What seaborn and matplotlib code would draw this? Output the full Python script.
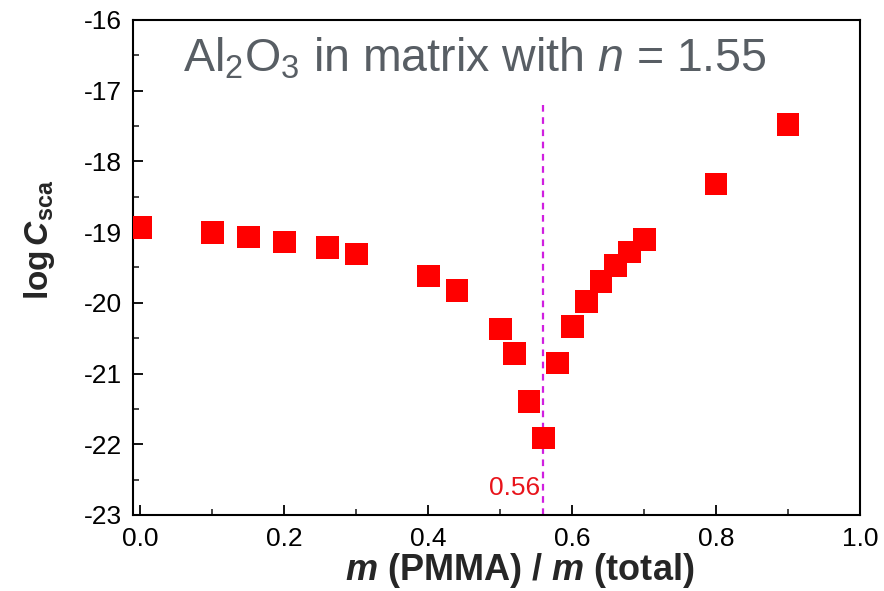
import matplotlib
matplotlib.use("Agg")
import matplotlib.pyplot as plt
import seaborn as sns
import pandas as pd

# Data
mass_fraction = [0.0, 0.1, 0.15, 0.2, 0.26, 0.3, 0.4, 0.44, 0.5, 0.52, 0.54, 0.56,
                 0.58, 0.6, 0.62, 0.64, 0.66, 0.68, 0.7, 0.8, 0.9]
log_csca = [-18.94, -19.01, -19.07, -19.14, -19.22, -19.31, -19.62, -19.83, -20.37,
            -20.72, -21.40, -21.91, -20.85, -20.33, -19.98, -19.70, -19.47, -19.28,
            -19.11, -18.32, -17.48]
x_ticks = [0.0, 0.2, 0.4, 0.6, 0.8, 1.0]
y_ticks = [-23, -22, -21, -20, -19, -18, -17, -16]
min_point = 0.56

sns.set_style("ticks")
plt.rcParams['font.family'] = ['Liberation Sans', 'DejaVu Sans']
plt.rcParams['mathtext.fontset'] = 'custom'
plt.rcParams['mathtext.rm'] = 'Liberation Sans'
plt.rcParams['mathtext.it'] = 'Liberation Sans:italic'
plt.rcParams['mathtext.bf'] = 'Liberation Sans:bold'
plt.rcParams['mathtext.bfit'] = 'Liberation Sans:bold:italic'

df = pd.DataFrame({"x": mass_fraction, "y": log_csca})

fig = plt.figure(figsize=(8.84, 5.91), dpi=100)
ax = fig.add_axes([0.1505, 0.1286, 0.8224, 0.8376])

sns.scatterplot(data=df, x="x", y="y", marker="s", color="#ff0000", s=270,
                edgecolor="none", linewidth=0, ax=ax, zorder=3)

ax.axvline(min_point, ymin=0, ymax=(-17.15 + 23) / 7, color="#d01fe0",
           linestyle=(0, (3, 2.5)), linewidth=1.6, zorder=2)
ax.text(min_point - 0.004, -22.72, "0.56", color="#e8141b", fontsize=19,
        ha="right", va="baseline")

ax.text(0.0597, -16.735, r"Al$_2$O$_3$ in matrix with $n$ = 1.55", color="#585e64",
        fontsize=33.5, ha="left", va="baseline")

ax.set_xlim(-0.01, 1.0)
ax.set_ylim(-23, -16)
ax.set_xticks(x_ticks)
ax.set_xticklabels([f"{v:.1f}" for v in x_ticks])
ax.set_yticks(y_ticks)
ax.set_yticklabels([str(v) for v in y_ticks])
ax.xaxis.set_minor_locator(matplotlib.ticker.MultipleLocator(0.1))
ax.yaxis.set_minor_locator(matplotlib.ticker.MultipleLocator(0.5))
ax.tick_params(axis="both", which="major", direction="in", length=7, width=1.3,
               labelsize=19, colors="black")
ax.tick_params(axis="x", which="major", pad=9)
ax.tick_params(axis="y", which="major", pad=8)
ax.tick_params(axis="both", which="minor", direction="in", length=4, width=1.2)
for sp in ax.spines.values():
    sp.set_visible(True)
    sp.set_linewidth(1.5)
    sp.set_color("black")

ax.set_xlabel(r"$\mathbfit{m}$ (PMMA) / $\mathbfit{m}$ (total)", fontsize=26,
              fontweight="bold")
ax.xaxis.set_label_coords(0.532, -0.072)
ax.set_ylabel(r"$\mathbf{log}\,\mathbfit{C}_{\mathbf{sca}}$", fontsize=24,
              fontweight="bold")
ax.yaxis.set_label_coords(-0.105, 0.556)

fig.savefig("out.png", dpi=100)
